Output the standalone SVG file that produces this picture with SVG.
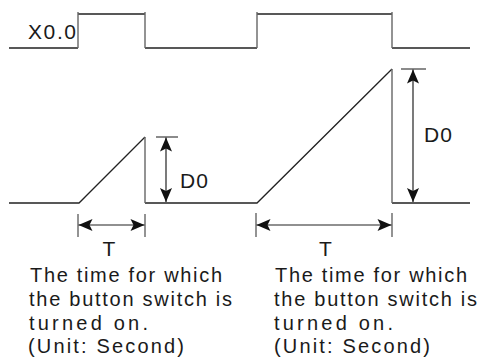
<svg xmlns="http://www.w3.org/2000/svg" width="483" height="363" viewBox="0 0 483 363">
<style>
.h{stroke:#222;stroke-width:1.3;fill:none}
.v{stroke:#666;stroke-width:1.4;fill:none}
.a{stroke:#222;stroke-width:1.2;fill:none;marker-start:url(#ah);marker-end:url(#ah)}
text{font-family:"Liberation Sans",Arial,sans-serif;fill:#1a1a1a}
.b{font-size:20px}
.l{font-size:21px}
</style>
<defs>
<marker id="ah" markerUnits="userSpaceOnUse" markerWidth="17" markerHeight="13" viewBox="-15 -6.5 16 13" refX="0" refY="0" orient="auto-start-reverse">
<path d="M0,0 L-14,-6 L-11,0 L-14,6 Z" fill="#111"/>
</marker>
</defs>
<rect width="483" height="363" fill="#fff"/>
<g id="input-signal">
<path class="h" d="M9,48 H78 M78,14 H145 M145,48 H257 M257,14 H392 M392,48 H470"/>
<path class="v" d="M78,12 V48 M145,12 V48 M257,12 V48 M392,12 V48"/>
<text class="l" x="28" y="39" textLength="48" lengthAdjust="spacing">X0.0</text>
</g>
<g id="output-signal">
<path class="h" d="M9,203 H79 L145,137 M145,203 H257 L392,69 M392,203 H470"/>
<path class="v" d="M145,137 V203 M392,69 V203"/>
</g>
<g id="connectors">
<path class="v" d="M156,137 H178 M401,69 H426 M78,214 V237 M145,214 V237 M256,213 V237 M392,213 V237"/>
<path class="a" d="M166,137.5 V202"/>
<path class="a" d="M413,69.5 V202"/>
<path class="a" d="M78.5,225 H144.5"/>
<path class="a" d="M256.5,225 H391.5"/>
</g>
<g id="labels">
<text class="l" x="180" y="188" textLength="28" lengthAdjust="spacing">D0</text>
<text class="l" x="424" y="142" textLength="28" lengthAdjust="spacing">D0</text>
<text class="l" x="109" y="255.5" text-anchor="middle">T</text>
<text class="l" x="325.5" y="255.5" text-anchor="middle">T</text>
</g>
<g id="note-left">
<text class="b" x="30" y="282" textLength="192" lengthAdjust="spacing">The time for which</text>
<text class="b" x="29" y="306" textLength="203" lengthAdjust="spacing">the button switch is</text>
<text class="b" x="29" y="330" textLength="119" lengthAdjust="spacing">turned on.</text>
<text class="b" x="28" y="353" textLength="156" lengthAdjust="spacing">(Unit: Second)</text>
</g>
<g id="note-right">
<text class="b" x="275" y="282" textLength="192" lengthAdjust="spacing">The time for which</text>
<text class="b" x="274" y="306" textLength="203" lengthAdjust="spacing">the button switch is</text>
<text class="b" x="274" y="330" textLength="119" lengthAdjust="spacing">turned on.</text>
<text class="b" x="274" y="353" textLength="156" lengthAdjust="spacing">(Unit: Second)</text>
</g>
</svg>
